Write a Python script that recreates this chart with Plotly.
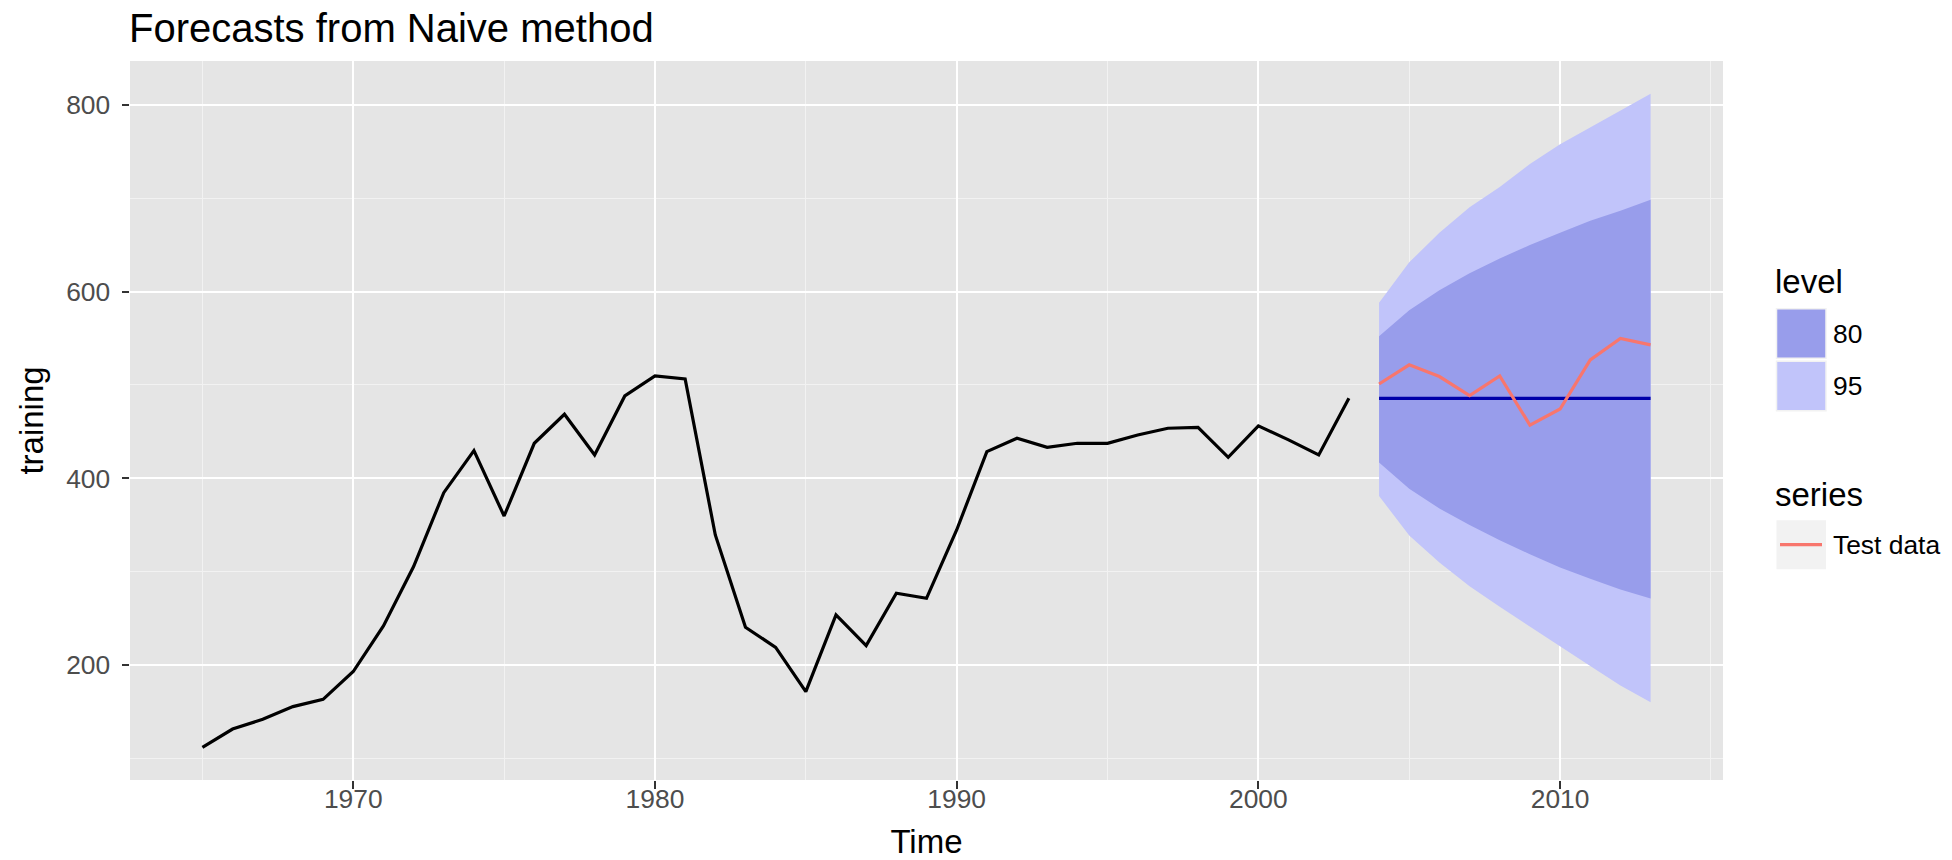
import plotly.graph_objects as go

# ---- data ----
train_years = list(range(1965, 2004))
train_values = [111.8, 131.4, 141.8, 155.4, 163.2, 193.0, 241.8, 305.4, 384.6, 429.6,
                359.6, 437.5, 468.6, 425.0, 488.2, 509.6, 506.4, 339.3, 240.4, 218.9,
                171.4, 253.6, 220.7, 276.8, 271.4, 344.6, 428.6, 442.9, 433.2, 437.5,
                437.5, 446.4, 453.6, 454.6, 422.5, 456.1, 441.1, 425.0, 485.7]

fc_years = list(range(2004, 2014))
fc_mean = [485.7, 485.7, 485.7, 485.7, 485.7, 485.7, 485.7, 485.7, 485.7, 485.7]
lo80 = [417.0, 388.8, 367.7, 350.0, 333.5, 318.7, 304.5, 292.4, 280.8, 271.3]
hi80 = [552.2, 580.0, 601.3, 619.7, 635.5, 649.8, 663.0, 676.0, 686.7, 698.3]
lo95 = [381.0, 338.7, 309.8, 284.4, 262.3, 241.2, 220.1, 199.0, 178.0, 160.0]
hi95 = [588.0, 631.3, 663.0, 690.4, 712.0, 736.7, 757.8, 776.0, 793.7, 812.0]

test_values = [501.0, 521.5, 509.0, 488.6, 509.7, 457.0, 474.2, 526.8, 549.7, 542.9]

level_labels = ["80", "95"]
series_labels = ["Test data"]

# ---- styles ----
FONT = "Liberation Sans, Arial, Helvetica, sans-serif"
C80 = "#989DEB"
C95 = "#C1C4FA"
CMEAN = "#0000AA"
CTEST = "#F8766D"
PANEL = "#E5E5E5"
LW = 3.2

W, H = 1952, 860
ML, MR, MT, MB = 130, 229, 61, 79.5
PW = W - ML - MR
PH = H - MT - MB


def px_x(px):
    return (px - ML) / PW


def px_y(py):
    return (H - MB - py) / PH


fig = go.Figure()

fig.add_trace(go.Scatter(
    x=fc_years + fc_years[::-1], y=hi95 + lo95[::-1],
    fill="toself", fillcolor=C95, line=dict(width=0), mode="lines",
    name="95", showlegend=False, hoverinfo="skip"))
fig.add_trace(go.Scatter(
    x=fc_years + fc_years[::-1], y=hi80 + lo80[::-1],
    fill="toself", fillcolor=C80, line=dict(width=0), mode="lines",
    name="80", showlegend=False, hoverinfo="skip"))
fig.add_trace(go.Scatter(
    x=fc_years, y=fc_mean, mode="lines", line=dict(color=CMEAN, width=LW),
    name="forecast", showlegend=False))
fig.add_trace(go.Scatter(
    x=fc_years, y=test_values, mode="lines", line=dict(color=CTEST, width=LW),
    name="Test data", showlegend=False))
fig.add_trace(go.Scatter(
    x=train_years, y=train_values, mode="lines", line=dict(color="black", width=LW),
    name="training", showlegend=False))

# ranges with ggplot-style 5% expansion
all_x = train_years + fc_years
xr = max(all_x) - min(all_x)
all_y = train_values + lo95 + hi95 + test_values
yr = max(all_y) - min(all_y)

axis_common = dict(
    showline=False, zeroline=False, ticks="outside", ticklen=7.5, tickwidth=2,
    tickcolor="#333333", gridcolor="white", gridwidth=2.4,
    tickfont=dict(family=FONT, size=26.4, color="#4D4D4D"),
)

fig.update_xaxes(
    range=[min(all_x) - 0.05 * xr, max(all_x) + 0.05 * xr],
    tickmode="linear", tick0=1970, dtick=10,
    minor=dict(tick0=1965, dtick=5, showgrid=True, gridcolor="#F2F2F2", gridwidth=1.2, ticks=""),
    title=dict(text="Time", font=dict(family=FONT, size=33, color="black"), standoff=26),
    ticklabelstandoff=-12,
    **axis_common)
fig.update_yaxes(
    range=[min(all_y) - 0.05 * yr, max(all_y) + 0.05 * yr],
    tickmode="linear", tick0=0, dtick=200,
    minor=dict(tick0=0, dtick=100, showgrid=True, gridcolor="#F2F2F2", gridwidth=1.2, ticks=""),
    title=dict(text="training", font=dict(family=FONT, size=33, color="black"), standoff=12),
    ticklabelstandoff=6,
    **axis_common)

# ---- manual ggplot-like legend ----
shapes = []
annotations = []


def add_text(text, px, py, size):
    annotations.append(dict(
        text=text, x=px_x(px), y=px_y(py), xref="paper", yref="paper",
        xanchor="left", yanchor="middle", showarrow=False,
        font=dict(family=FONT, size=size, color="black")))


add_text("level", 1773, 281.5, 33)
key_colors = [C80, C95]
key_tops = [309, 361.5]
for lab, col, top in zip(level_labels, key_colors, key_tops):
    shapes.append(dict(type="rect", xref="paper", yref="paper",
                       x0=px_x(1776.5), x1=px_x(1826), y0=px_y(top), y1=px_y(top + 49.5),
                       fillcolor=col, line=dict(color="#F2F2F2", width=1.5), layer="above"))
    add_text(lab, 1831, top + 25, 26.4)

add_text("series", 1773, 495, 33)
shapes.append(dict(type="rect", xref="paper", yref="paper",
                   x0=px_x(1776.5), x1=px_x(1826), y0=px_y(520.5), y1=px_y(569.5),
                   fillcolor="#F2F2F2", line=dict(width=0), layer="above"))
shapes.append(dict(type="line", xref="paper", yref="paper",
                   x0=px_x(1780), x1=px_x(1822), y0=px_y(545), y1=px_y(545),
                   line=dict(color=CTEST, width=LW), layer="above"))
add_text(series_labels[0], 1831, 545.5, 26.4)

fig.update_layout(
    width=W, height=H,
    margin=dict(l=ML, r=MR, t=MT, b=MB, autoexpand=False),
    paper_bgcolor="white", plot_bgcolor=PANEL,
    title=dict(text="Forecasts from Naive method", x=129 / W, xref="container", xanchor="left",
               y=1 - 27.5 / H, yref="container", yanchor="middle",
               font=dict(family=FONT, size=40, color="black")),
    shapes=shapes, annotations=annotations,
    showlegend=False,
)

fig.write_html("out.html")
